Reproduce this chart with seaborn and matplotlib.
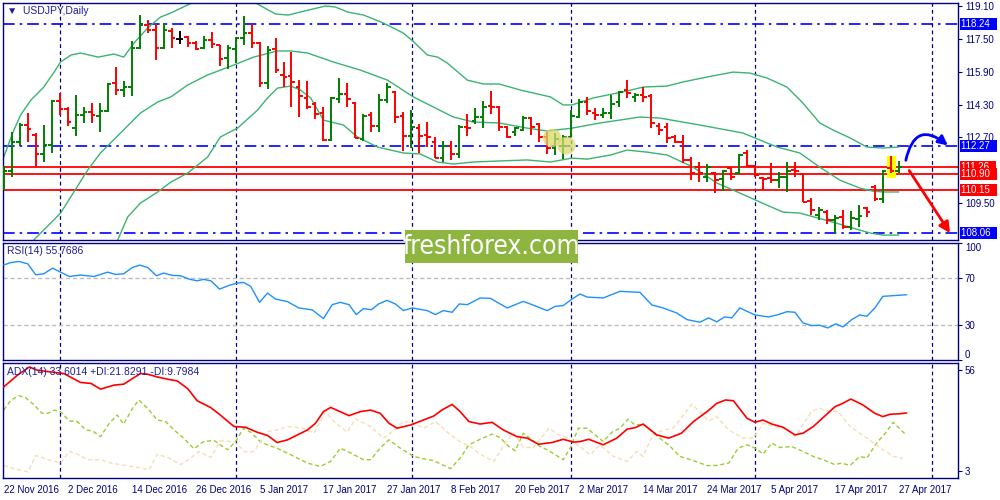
import numpy as np
import pandas as pd
import matplotlib
matplotlib.use("Agg")
import matplotlib.pyplot as plt
import seaborn as sns
from matplotlib.patches import Rectangle, Ellipse
import matplotlib.transforms as mtransforms

sns.set_style("white")
plt.rcParams['font.family'] = ['Liberation Sans', 'DejaVu Sans']

# ---------------- data ----------------
date_labels = ['22 Nov 2016', '2 Dec 2016', '14 Dec 2016', '26 Dec 2016', '5 Jan 2017',
               '17 Jan 2017', '27 Jan 2017', '8 Feb 2017', '20 Feb 2017', '2 Mar 2017',
               '14 Mar 2017', '24 Mar 2017', '5 Apr 2017', '17 Apr 2017', '27 Apr 2017']
date_pos = [0, 8, 16, 24, 32, 40, 48, 56, 64, 72, 80, 88, 96, 104, 112]

opens = [111.00, 111.05, 112.45, 113.30, 112.80, 111.90, 112.33, 114.45, 114.08, 113.15,
         113.80, 113.93, 113.75, 113.98, 115.35, 115.00, 115.15, 117.05, 118.17, 117.93,
         117.05, 117.88, 117.49, 117.59, 117.30, 117.05, 117.44, 117.20, 116.57, 117.00,
         117.54, 117.78, 117.30, 115.35, 117.00, 115.75, 115.70, 115.15, 114.62, 114.32,
         113.89, 112.57, 114.57, 114.81, 114.37, 112.62, 113.79, 113.25, 114.52, 114.91,
         113.74, 112.76, 113.15, 112.81, 112.47, 111.70, 112.28, 111.89, 113.20, 113.50,
         113.69, 114.23, 114.18, 113.20, 112.96, 113.06, 113.64, 113.35, 112.72, 112.20,
         112.30, 112.72, 113.69, 114.42, 113.89, 113.79, 113.89, 114.42, 115.00, 114.67,
         114.76, 114.72, 113.25, 113.20, 112.72, 112.47, 111.60, 111.26, 110.77, 110.96,
         110.67, 111.21, 110.96, 111.95, 111.30, 110.72, 110.72, 110.62, 110.77, 111.11,
         110.90, 109.60, 108.92, 109.06, 108.67, 108.82, 108.33, 108.72, 109.26, 110.30,
         109.70, 111.20, 111.06]
highs = [111.30, 112.96, 113.40, 113.89, 112.91, 113.30, 114.52, 114.86, 114.18, 114.76,
         114.18, 114.37, 114.37, 115.35, 116.13, 115.45, 117.40, 118.66, 118.42, 118.22,
         118.27, 118.03, 117.88, 117.64, 117.40, 117.64, 117.83, 117.20, 117.20, 117.59,
         118.61, 118.22, 117.35, 117.15, 117.54, 116.37, 116.86, 115.49, 115.45, 114.42,
         114.18, 114.67, 115.59, 115.35, 114.42, 113.84, 113.93, 114.81, 115.35, 114.96,
         113.93, 114.03, 113.35, 113.45, 112.72, 112.52, 112.52, 113.30, 113.84, 114.13,
         114.47, 114.96, 114.23, 113.25, 113.20, 113.74, 113.69, 113.40, 112.96, 112.91,
         112.81, 114.03, 114.57, 114.67, 114.13, 114.13, 114.76, 114.96, 115.49, 114.86,
         115.15, 114.81, 113.40, 113.40, 112.81, 112.81, 111.74, 111.50, 111.40, 111.01,
         111.11, 111.26, 111.89, 112.08, 111.35, 110.77, 111.45, 111.00, 111.50, 111.50,
         110.90, 109.75, 109.30, 109.16, 108.92, 109.16, 109.11, 109.40, 109.30, 110.38,
         111.11, 111.79, 111.55]
lows = [110.15, 110.77, 112.27, 112.47, 111.25, 111.50, 111.94, 113.79, 113.25, 112.76,
        113.40, 113.40, 112.96, 113.93, 114.76, 114.67, 114.72, 117.00, 117.78, 116.47,
        117.00, 117.05, 117.25, 117.10, 116.95, 117.00, 117.05, 116.18, 116.03, 116.32,
        117.20, 117.05, 115.15, 115.05, 115.84, 115.15, 114.18, 113.69, 114.08, 113.60,
        112.52, 112.52, 114.37, 114.18, 112.67, 112.52, 112.96, 112.96, 114.37, 113.40,
        112.03, 112.18, 111.94, 112.23, 111.70, 111.50, 111.60, 111.70, 112.76, 113.35,
        113.15, 113.84, 113.00, 112.67, 112.76, 113.00, 112.81, 112.47, 111.89, 111.84,
        111.65, 112.72, 113.64, 113.79, 113.54, 113.64, 113.60, 114.18, 114.62, 114.42,
        114.42, 113.15, 112.81, 112.43, 112.43, 111.45, 110.62, 110.52, 110.52, 109.99,
        110.08, 110.62, 110.91, 111.25, 110.77, 110.13, 110.47, 110.23, 110.03, 110.77,
        109.55, 108.92, 108.67, 108.47, 108.04, 108.23, 108.18, 108.33, 108.82, 109.60,
        109.50, 110.96, 110.96]
closes = [111.08, 112.45, 113.30, 113.10, 111.90, 112.33, 114.45, 114.10, 113.45, 113.80,
          113.93, 113.79, 113.98, 115.30, 115.00, 115.15, 117.05, 118.17, 117.93, 117.05,
          117.93, 117.54, 117.49, 117.30, 117.00, 117.44, 117.25, 116.52, 117.05, 117.54,
          117.78, 117.30, 115.35, 116.96, 115.98, 115.62, 115.40, 114.72, 114.18, 113.84,
          112.57, 114.62, 114.81, 114.57, 112.67, 113.74, 113.25, 114.52, 115.15, 113.69,
          112.76, 113.20, 112.76, 112.72, 111.70, 112.28, 111.89, 113.20, 113.15, 113.69,
          114.18, 114.18, 113.20, 112.72, 113.15, 113.64, 113.20, 112.72, 112.20, 112.62,
          112.72, 113.74, 114.42, 113.98, 113.79, 113.89, 114.32, 114.91, 114.86, 114.76,
          114.67, 113.40, 113.06, 112.67, 112.47, 111.60, 110.96, 110.96, 111.26, 110.62,
          111.06, 110.77, 111.84, 111.30, 110.86, 110.67, 110.62, 110.77, 111.06, 111.06,
          109.55, 109.16, 109.16, 108.67, 108.77, 108.33, 108.77, 108.87, 109.06, 109.70,
          111.06, 111.06, 111.26]

bb_up_x = [0, 1.1, 2.1, 3.4, 5, 6.3, 7.1, 8.4, 9.6, 11.8, 13.8, 15, 16.3, 18, 19.6, 20.9,
           23.75, 26, 29, 31.5, 34, 35.6, 38.1, 40.25, 41.5, 43, 45, 47.5, 50, 51.3, 53,
           54.3, 55.5, 58, 60, 62, 64.6, 68.4, 70, 71.1, 73.75, 78, 80, 83, 85, 88, 91.25,
           93.4, 95.5, 98, 100, 102.1, 103.75, 105.9, 108, 110, 112]
bb_up_y = [111.74, 112.91, 113.79, 114.52, 115.15, 115.88, 116.37, 116.71, 116.81, 116.61,
           116.76, 116.61, 117.30, 118.03, 118.56, 118.76, 119.29, 119.50, 119.50, 119.25,
           118.71, 118.66, 118.90, 119.10, 119.05, 118.81, 118.66, 118.27, 117.78, 117.35,
           116.71, 116.61, 116.32, 115.49, 115.30, 115.30, 115.01, 114.67, 114.28, 114.28,
           114.62, 114.96, 115.15, 115.20, 115.40, 115.64, 115.88, 115.83, 115.59, 115.15,
           114.37, 113.40, 113.06, 112.67, 112.23, 112.18, 112.23]
bb_mid_x = [3.75, 7.1, 10.5, 12.1, 14.6, 17.1, 19.25, 20.9, 23, 25.5, 28.75, 31.25, 34.25,
            35.9, 38, 41.25, 44.6, 48, 51.25, 53.75, 56.25, 58.75, 62, 65.5, 68, 71.1, 74.6,
            79.6, 82.1, 87.1, 92.5, 96.75, 99.6, 102.1, 104.6, 107.1, 108.75, 110, 112]
bb_mid_y = [107.70, 109.01, 111.11, 111.94, 112.91, 113.89, 114.42, 114.67, 115.25, 115.74,
            116.22, 116.61, 116.91, 116.91, 116.81, 116.37, 115.98, 115.49, 114.67, 114.18,
            113.69, 113.45, 113.40, 113.15, 113.01, 113.15, 113.40, 113.69, 113.64, 113.30,
            112.91, 112.23, 111.94, 111.25, 110.62, 110.23, 110.08, 110.04, 110.04]
bb_low_x = [14.25, 15.5, 17.1, 19.25, 20.9, 23, 25.5, 27.1, 29.25, 31.75, 33, 34.25, 35.9,
            37.1, 38.4, 40, 42.5, 44.25, 46.75, 50, 52.1, 54.25, 56.25, 58.75, 62, 65.5, 68.4,
            71.1, 73, 75.9, 78, 80.5, 83, 86.25, 89.25, 92.1, 94.6, 97.5, 99.6, 103.75,
            106.25, 108.4, 110, 112]
bb_low_y = [107.70, 108.82, 109.50, 110.04, 110.52, 110.96, 111.74, 112.72, 113.15, 114.03,
            114.62, 115.10, 115.20, 115.01, 114.62, 113.54, 113.30, 112.72, 112.23, 111.94,
            111.89, 111.50, 111.40, 111.50, 111.55, 111.60, 111.50, 111.69, 111.64, 111.84,
            112.08, 111.98, 111.84, 111.25, 110.47, 109.99, 109.55, 109.06, 109.01, 108.57,
            108.28, 108.04, 107.94, 107.94]

rsi_x = [0, 0.9, 1.9, 3, 4, 5, 6.1, 7.1, 8.2, 9.6, 11.3, 13, 14, 15, 16.1, 17, 18, 19.1, 20,
         21.1, 22.1, 23.2, 24.2, 25, 25.9, 27, 28.2, 29.2, 30, 30.9, 32, 33, 34, 35.5, 36.9,
         38.6, 40, 41.1, 42.1, 43.2, 44.1, 45, 46, 46.9, 47.95, 49, 50, 51.1, 53, 54, 55,
         56.1, 57, 58, 59.6, 60.9, 61.9, 63, 64, 65, 66.1, 68, 69, 70, 71.1, 72.1, 73, 75,
         77.1, 79.6, 81.1, 82.5, 84.2, 85.5, 87.1, 88.2, 89.2, 90.2, 91.1, 92.1, 93, 94,
         95.7, 96.9, 98, 99, 100, 101.1, 102.1, 103.1, 104.1, 105, 106.1, 107.1, 108, 109,
         110, 111.3, 112.96]
rsi_y = [81.3, 83.3, 84.2, 82.2, 72.8, 73.7, 78.5, 75.1, 71.4, 72.6, 71.4, 75.1, 73.1, 73.7,
         79.1, 81.1, 79.1, 72.0, 74.3, 72.3, 72.0, 69.1, 67.7, 68.9, 67.7, 60.6, 63.8, 65.7,
         66.3, 62.9, 49.3, 57.2, 52.1, 49.9, 44.5, 42.8, 35.4, 47.3, 49.3, 47.3, 38.8, 43.9,
         43.0, 47.9, 51.0, 47.9, 42.2, 44.5, 42.2, 38.8, 42.2, 40.8, 47.9, 47.3, 53.0, 52.7,
         48.7, 44.5, 47.3, 50.1, 47.3, 42.2, 45.9, 46.5, 52.1, 56.4, 53.8, 53.0, 58.7, 57.8,
         47.0, 44.5, 40.2, 34.5, 32.3, 36.0, 32.6, 36.8, 36.0, 44.5, 41.6, 38.5, 36.8, 38.8,
         41.3, 40.8, 31.7, 29.4, 29.7, 27.4, 30.9, 28.3, 34.5, 38.5, 37.4, 44.5, 54.4, 55.0,
         55.77]

adx_x = [0, 1.7, 3.2, 4.2, 5.9, 7.5, 9.6, 10.9, 12.1, 13.8, 15, 17.1, 18, 19.2, 20.5, 21.7,
         23, 24.2, 25.9, 27.1, 28.8, 30.25, 31.7, 33, 34.2, 35.5, 38, 39, 40, 40.9, 43.2,
         44.6, 45.9, 47.1, 48.2, 49.2, 50.9, 52.5, 53.8, 54.8, 56.1, 57.1, 58.2, 59.6, 61.1,
         62.5, 64.2, 65.5, 66.9, 68.6, 70, 71.3, 72.1, 73.2, 75, 76.7, 78, 79, 80, 81.7,
         83.2, 84.8, 86.3, 88, 89.2, 90.3, 91.3, 93, 94, 95, 96.1, 97.5, 99, 100, 101.3,
         102.5, 104, 104.8, 106, 107.5, 109, 110, 110.9, 112.1, 112.96]
adx_y = [47.3, 53.4, 57.7, 56.0, 55.1, 54.3, 49.6, 49.1, 46.1, 48.2, 48.7, 54.3, 53.9, 52.5,
         51.3, 50.4, 46.4, 40.0, 36.4, 32.5, 26.5, 26.1, 23.5, 21.8, 18.1, 19.5, 24.7, 28.2,
         34.3, 36.5, 32.2, 34.3, 35.1, 33.4, 28.2, 25.6, 27.3, 29.9, 32.0, 35.1, 38.1, 34.3,
         29.1, 27.8, 28.7, 24.7, 21.2, 20.4, 17.2, 18.1, 19.8, 18.3, 18.6, 19.8, 16.9, 20.4,
         25.1, 25.9, 27.8, 22.1, 20.4, 23.0, 29.1, 34.3, 38.6, 40.4, 40.0, 30.8, 28.7, 29.9,
         27.8, 26.1, 22.1, 23.0, 26.5, 31.1, 36.9, 38.3, 40.9, 37.8, 33.4, 31.7, 32.9, 33.2,
         33.6]

pdi_x = [0, 0.9, 1.9, 2.75, 3.8, 4.8, 5.5, 6.3, 7.1, 8.2, 9.2, 10.25, 11.1, 12.1, 13.2, 14.2,
         15, 16.1, 16.9, 18, 19.2, 20.25, 21.3, 22.5, 23.8, 25, 26.3, 28, 29, 30, 30.9, 32.1,
         33.2, 34, 35.9, 38, 39.6, 40.9, 42.1, 43.4, 45, 45.9, 47.1, 48.2, 49.6, 51.3, 52.5,
         53.8, 55.9, 57.1, 58.2, 59.6, 61.1, 62.1, 63.2, 64, 65, 66.1, 67.1, 68, 69, 70,
         70.9, 71.9, 73, 74, 75, 76.1, 77.1, 78.1, 79, 80, 81.1, 82.1, 83.4, 84.6, 86.3, 88,
         89.2, 90.7, 91.9, 93, 94.2, 95, 96.1, 97.1, 98.6, 99.8, 101.3, 102.8, 104, 104.8,
         105.9, 107.1, 108, 109.2, 110.3, 111.3, 112.96]
pdi_y = [35.1, 40.4, 42.6, 41.6, 37.8, 33.4, 33.4, 35.1, 34.3, 29.4, 29.1, 24.7, 24.2, 21.2,
         28.2, 32.5, 27.7, 36.0, 40.4, 36.0, 29.9, 29.1, 24.7, 20.4, 14.8, 18.6, 19.2, 14.3,
         18.6, 25.6, 23.5, 18.6, 16.5, 15.5, 11.7, 7.3, 5.6, 8.2, 15.2, 12.6, 9.1, 9.1, 15.2,
         19.5, 15.2, 10.8, 9.6, 8.6, 4.4, 9.9, 16.9, 19.8, 22.5, 20.7, 16.0, 13.8, 23.0, 19.5,
         16.0, 14.3, 11.7, 9.1, 15.5, 25.6, 25.6, 22.1, 18.6, 23.5, 25.6, 30.3, 27.3, 27.7,
         23.8, 20.4, 16.0, 10.8, 8.6, 6.0, 6.1, 7.3, 15.2, 16.9, 14.8, 12.0, 17.8, 15.5, 16.0,
         13.8, 10.8, 8.6, 6.5, 7.3, 6.1, 10.8, 9.9, 17.8, 23.0, 28.7, 21.83]

mdi_x = [0, 1.3, 3, 4, 5, 7.1, 8.2, 9.2, 10.5, 12.1, 13.4, 14.6, 15.9, 17.1, 18.2, 19.2, 20.7,
         22.1, 23.4, 24.4, 25.9, 27.1, 28.8, 30.25, 31.3, 33, 34.2, 35.5, 37.5, 38.8, 40.25,
         41.3, 42.95, 44, 45.9, 47.5, 49.2, 50, 51.3, 52.5, 54, 55.9, 57.1, 58.4, 59.6, 61.3,
         62.75, 63.8, 65, 66.3, 68.2, 69.4, 70.2, 72.1, 73.4, 74.6, 76.3, 78, 79.2, 80,
         81.3, 82.75, 83.8, 85, 86.1, 87.1, 88.2, 89.2, 90.7, 92.5, 93.8, 95, 96.3, 98, 99,
         101.1, 102.1, 103.2, 104.4, 105.9, 108, 110, 111.3, 112.5]
mdi_y = [6.1, 4.4, 2.7, 11.3, 9.9, 7.3, 13.4, 12.0, 9.1, 9.1, 7.3, 6.5, 5.6, 4.7, 3.9, 12.0,
         9.9, 6.5, 9.9, 13.4, 10.3, 19.0, 18.6, 13.0, 13.4, 23.8, 24.7, 26.5, 25.6, 23.0, 34.3,
         29.1, 23.5, 30.5, 26.5, 20.4, 25.6, 29.4, 28.2, 25.6, 29.1, 22.1, 18.6, 16.0, 12.0,
         8.2, 17.8, 23.0, 15.5, 15.5, 25.6, 22.1, 21.2, 16.0, 11.7, 16.9, 10.8, 8.2, 13.4,
         10.8, 23.0, 24.7, 25.9, 32.5, 38.1, 34.3, 29.4, 31.7, 24.7, 20.4, 20.4, 28.2, 26.5,
         25.6, 21.2, 34.6, 36.0, 34.6, 34.3, 26.5, 20.4, 14.3, 10.8, 9.80]

blue_levels = [118.24, 112.27, 108.06]
red_levels = [111.26, 110.90, 110.15]
price_ticks = [119.10, 117.50, 115.90, 114.30, 112.70, 109.50]
vgrid = [7.04, 29.1, 51.1, 71.0, 94.0, 116.1]

# ---------------- styling constants ----------------
NAVY = '#00007f'
GREEN = '#008000'
RED = '#ff0000'
BB_COL = '#3cb371'
XL = (-0.1, 119.4)

fig = plt.figure(figsize=(10, 5), dpi=100)
fig.patch.set_facecolor('white')
ax = fig.add_axes([0.003, 0.52, 0.955, 0.474])
ax_r = fig.add_axes([0.003, 0.28, 0.955, 0.234])
ax_a = fig.add_axes([0.003, 0.044, 0.955, 0.23])

for a in (ax, ax_r, ax_a):
    a.set_facecolor('white')
    a.set_xlim(*XL)
    for s in a.spines.values():
        s.set_color(NAVY)
        s.set_linewidth(1.0)
    a.yaxis.tick_right()
    a.tick_params(axis='y', direction='out', length=3, width=0.8, colors=NAVY,
                  labelsize=7, pad=2, labelcolor=NAVY)
    for g in vgrid:
        a.axvline(g, color=NAVY, lw=0.9, ls=(0, (3, 2.5)), zorder=1)

ax.set_xticks([])
ax_r.set_xticks([])

# ---------------- main price panel ----------------
n = len(closes)
xs = np.arange(n)
o = np.array(opens); h = np.array(highs); l = np.array(lows); c = np.array(closes)
cols = np.where(c > o, GREEN, np.where(c < o, RED, '#000000'))

for lv in red_levels:
    ax.axhline(lv, color=RED, lw=1.3, zorder=1.5)
for lv in blue_levels:
    ax.axhline(lv, color='#0000ff', lw=1.2, ls=(0, (7, 3, 1.5, 3)), zorder=1.5)

sns.lineplot(x=bb_up_x, y=bb_up_y, ax=ax, color=BB_COL, lw=1.0, estimator=None, zorder=2)
sns.lineplot(x=bb_mid_x, y=bb_mid_y, ax=ax, color=BB_COL, lw=1.0, estimator=None, zorder=2)
sns.lineplot(x=bb_low_x, y=bb_low_y, ax=ax, color=BB_COL, lw=1.0, estimator=None, zorder=2)

ax.add_patch(Rectangle((110.55, 110.72), 1.15, 1.05, fc='#ffff00', ec='none', zorder=2.5))

ax.vlines(xs, l, h, colors=cols, lw=1.4, zorder=3)
ax.hlines(o, xs - 0.45, xs, colors=cols, lw=1.4, zorder=3)
ax.hlines(c, xs, xs + 0.45, colors=cols, lw=1.4, zorder=3)

ax.add_patch(Ellipse((68.6, 112.67), 2.3, 0.88, fc='#d9d96a', ec='none', alpha=0.75, zorder=4))
ax.add_patch(Ellipse((70.4, 112.30), 2.3, 0.88, fc='#d9d96a', ec='none', alpha=0.75, zorder=4))

ax.annotate('', xy=(118.4, 112.22), xytext=(112.8, 111.45),
            arrowprops=dict(arrowstyle='-|>', color='#0000ff', lw=2.0, mutation_scale=14,
                            connectionstyle='arc3,rad=-0.85'), zorder=5)
ax.annotate('', xy=(118.6, 107.92), xytext=(113.1, 111.2),
            arrowprops=dict(arrowstyle='-|>', color=RED, lw=2.0, mutation_scale=16), zorder=5)

ax.set_ylim(107.70, 119.246)
ax.set_yticks(price_ticks)
ax.set_yticklabels([f'{v:.2f}' for v in price_ticks])

btr = mtransforms.blended_transform_factory(ax.transAxes, ax.transData)
for lv in blue_levels:
    ax.text(1.0035, lv, f'{lv:.2f}  ', transform=btr, ha='left', va='center', fontsize=7,
            color='white', clip_on=False, zorder=6,
            bbox=dict(boxstyle='square,pad=0.1', fc='#0000ff', ec='none'))
for lv in red_levels:
    ax.text(1.0035, lv, f'{lv:.2f}  ', transform=btr, ha='left', va='center', fontsize=7,
            color='white', clip_on=False, zorder=6,
            bbox=dict(boxstyle='square,pad=0.1', fc=RED, ec='none'))

ax.text(0.0045, 0.966, '\u25bc  USDJPY,Daily', transform=ax.transAxes, ha='left', va='center',
        fontsize=7.5, color='#1f1f9a')

# ---------------- RSI panel ----------------
ax_r.axhline(70, color='#bdbdbd', lw=1.0, ls=(0, (3, 2)), zorder=1)
ax_r.axhline(30, color='#bdbdbd', lw=1.0, ls=(0, (3, 2)), zorder=1)
sns.lineplot(x=rsi_x, y=rsi_y, ax=ax_r, color='#1e90ff', lw=1.0, estimator=None, zorder=3)
ax_r.set_ylim(0, 100)
ax_r.set_yticks([100, 70, 30, 0])
ax_r.set_yticklabels(['100', '70', '30', '0'])
tl = ax_r.get_yticklabels()
tl[0].set_va('top')
tl[3].set_va('bottom')
ax_r.text(0.0045, 0.932, 'RSI(14) 55.7686', transform=ax_r.transAxes, ha='left', va='center',
          fontsize=7.5, color='#1f1f9a')

# ---------------- ADX panel ----------------
sns.lineplot(x=pdi_x, y=pdi_y, ax=ax_a, color='#9acd32', lw=1.0, ls=(0, (3, 2)),
             estimator=None, zorder=2)
sns.lineplot(x=mdi_x, y=mdi_y, ax=ax_a, color='#f5deb3', lw=1.0, ls=(0, (3, 2)),
             estimator=None, zorder=2)
sns.lineplot(x=adx_x, y=adx_y, ax=ax_a, color=RED, lw=1.2, estimator=None, zorder=3)
ax_a.set_ylim(-0.5, 59.8)
ax_a.set_yticks([56, 3])
ax_a.set_yticklabels(['56', '3'])
ax_a.text(0.0045, 0.922, 'ADX(14) 33.6014 +DI:21.8291 -DI:9.7984', transform=ax_a.transAxes,
          ha='left', va='center', fontsize=7.5, color='#1f1f9a')

ax_a.set_xticks(date_pos)
ax_a.set_xticklabels(date_labels)
ax_a.tick_params(axis='x', direction='out', length=3, width=0.8, colors=NAVY, labelsize=7,
                 pad=2, labelcolor=NAVY)
for t in ax_a.get_xticklabels():
    t.set_ha('left')

for a in (ax, ax_r, ax_a):
    a.set_xlim(*XL)
    a.set_xlabel('')
    a.set_ylabel('')
    if a.get_legend():
        a.get_legend().remove()

# ---------------- watermark ----------------
fig.add_artist(Rectangle((0.405, 0.474), 0.173, 0.066, transform=fig.transFigure,
                         fc='#8db53f', ec='none', zorder=10))
fig.text(0.4915, 0.506, 'freshforex.com', color='white', fontsize=19, ha='center',
         va='center', zorder=11, family='DejaVu Sans', fontstretch='condensed')

fig.savefig('out.png', dpi=100, facecolor='white')
